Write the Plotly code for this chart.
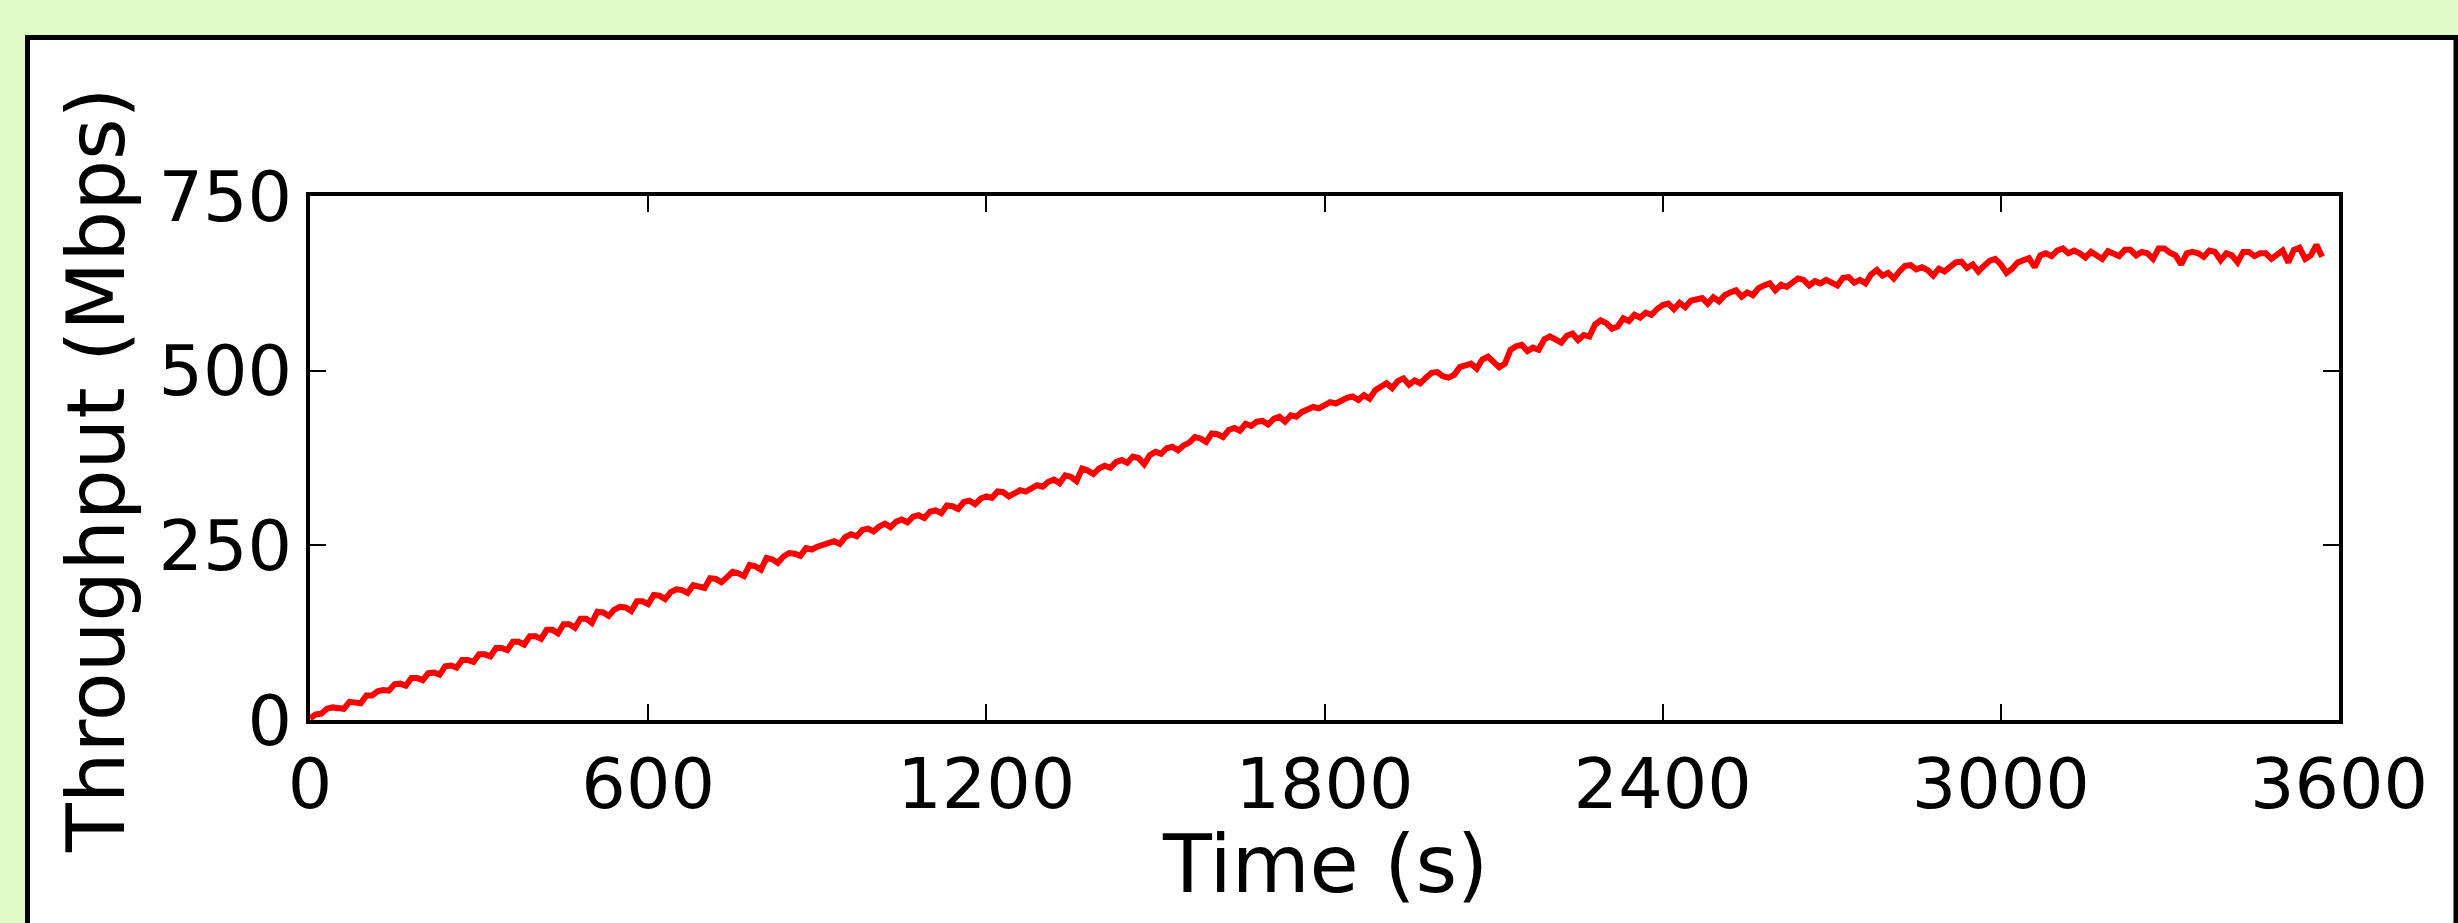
import plotly.graph_objects as go

# Sampling grid: one reading every 10 s (0 .. 3570 s)
SAMPLE_STEP_S = 10
time_s = list(range(0, 3580, SAMPLE_STEP_S))

# Throughput readings (Mbps)
throughput_0_900 = [
    2, 8, 9, 16, 18, 18, 16, 26, 26, 24,
    35, 35, 41, 43, 42, 51, 52, 49, 60, 60,
    57, 67, 68, 65, 77, 78, 75, 86, 86, 83,
    94, 94, 91, 103, 103, 100, 112, 112, 108, 120,
    120, 116, 129, 129, 124, 137, 137, 132, 145, 145,
    139, 155, 154, 149, 158, 162, 161, 156, 170, 170,
    166, 179, 178, 173, 183, 187, 186, 182, 193, 192,
    189, 203, 202, 197, 206, 212, 210, 206, 222, 220,
    215, 232, 230, 225, 234, 239, 238, 235, 246, 244,
    248,
]
throughput_910_1800 = [
    250, 254, 256, 252, 262, 266, 263, 272, 274, 270,
    277, 281, 276, 284, 287, 283, 291, 293, 289, 298,
    300, 296, 307, 306, 302, 312, 314, 309, 317, 320,
    318, 327, 326, 320, 324, 329, 327, 331, 336, 334,
    341, 344, 339, 350, 348, 342, 360, 357, 352, 360,
    364, 361, 369, 372, 368, 377, 375, 366, 379, 384,
    381, 389, 391, 386, 393, 397, 405, 403, 398, 410,
    409, 405, 415, 418, 414, 424, 421, 427, 428, 423,
    431, 434, 427, 436, 434, 441, 445, 448, 446, 450,
]
throughput_1810_2700 = [
    455, 453, 458, 461, 463, 458, 465, 460, 472, 478,
    482, 475, 485, 489, 480, 486, 482, 490, 497, 498,
    492, 490, 494, 505, 508, 510, 503, 516, 520, 512,
    505, 510, 530, 535, 537, 528, 533, 530, 545, 549,
    545, 540, 550, 553, 544, 551, 549, 566, 572, 568,
    560, 563, 575, 571, 580, 576, 583, 580, 588, 594,
    596, 588, 597, 591, 600, 603, 604, 596, 605, 599,
    608, 612, 615, 606, 612, 608, 618, 622, 625, 615,
    623, 620, 627, 632, 630, 622, 628, 625, 630, 627,
]
throughput_2710_3570 = [
    622, 633, 634, 626, 630, 625, 638, 644, 636, 640,
    632, 642, 650, 651, 645, 648, 644, 636, 646, 642,
    648, 655, 656, 647, 652, 642, 650, 657, 660, 652,
    640, 646, 655, 658, 661, 648, 665, 668, 664, 672,
    675, 668, 672, 668, 662, 670, 665, 660, 671, 668,
    664, 673, 673, 665, 670, 668, 660, 675, 675, 669,
    665, 652, 668, 670, 668, 663, 672, 670, 658, 668,
    665, 655, 670, 670, 664, 668, 668, 660, 665, 672,
    655, 673, 676, 660, 665, 680, 663,
]
throughput_mbps = (throughput_0_900 + throughput_910_1800
                   + throughput_1810_2700 + throughput_2710_3570)
assert len(throughput_mbps) == len(time_s)

x_ticks = [0, 600, 1200, 1800, 2400, 3000, 3600]
y_ticks = [0, 250, 500, 750]
x_title = "Time (s)"
y_title = "Throughput (Mbps)"

W, H = 2458, 923
ML, MR, MT, MB = 310, 119, 196, 203
PW, PH = W - ML - MR, H - MT - MB

def px_to_paper_x(px):
    return (px - ML) / PW

def px_to_paper_y(py):
    return (H - MB - py) / PH

FONT = "DejaVu Sans"

fig = go.Figure()
fig.add_trace(go.Scatter(
    x=time_s, y=throughput_mbps, mode="lines",
    line=dict(color="#ff0000", width=6),
    showlegend=False, hoverinfo="skip",
))

axis_common = dict(
    showline=True, linecolor="black", linewidth=4, mirror="ticks",
    ticks="inside", ticklen=16, tickwidth=1.5, tickcolor="black",
    showgrid=False, zeroline=False,
    tickfont=dict(family=FONT, size=70, color="black"),
)

fig.update_xaxes(range=[0, 3600], tickvals=x_ticks,
                 ticktext=[str(v) for v in x_ticks], **axis_common)
fig.update_yaxes(range=[0, 750], tickvals=y_ticks,
                 ticktext=[str(v) for v in y_ticks], **axis_common)

# white framed panel on light green background
fig.add_shape(type="rect", xref="paper", yref="paper",
              x0=px_to_paper_x(27.5), x1=px_to_paper_x(2456),
              y0=px_to_paper_y(960), y1=px_to_paper_y(37.5),
              line=dict(color="black", width=5), fillcolor="white",
              layer="below")

fig.add_annotation(text=x_title, xref="paper", yref="paper",
                   x=px_to_paper_x((310 + 2339) / 2), y=px_to_paper_y(864),
                   xanchor="center", yanchor="middle", showarrow=False,
                   font=dict(family=FONT, size=80, color="black"))
fig.add_annotation(text=y_title, xref="paper", yref="paper",
                   x=px_to_paper_x(97), y=px_to_paper_y(470),
                   xanchor="center", yanchor="middle", showarrow=False,
                   textangle=-90,
                   font=dict(family=FONT, size=80, color="black"))

fig.update_layout(
    width=W, height=H,
    margin=dict(l=ML, r=MR, t=MT, b=MB, autoexpand=False),
    paper_bgcolor="#e0fbc8", plot_bgcolor="white",
)

fig.write_html(
    "out.html",
    config={"displayModeBar": False},
    post_script="document.body.style.margin='0';document.body.style.overflow='hidden';",
)
